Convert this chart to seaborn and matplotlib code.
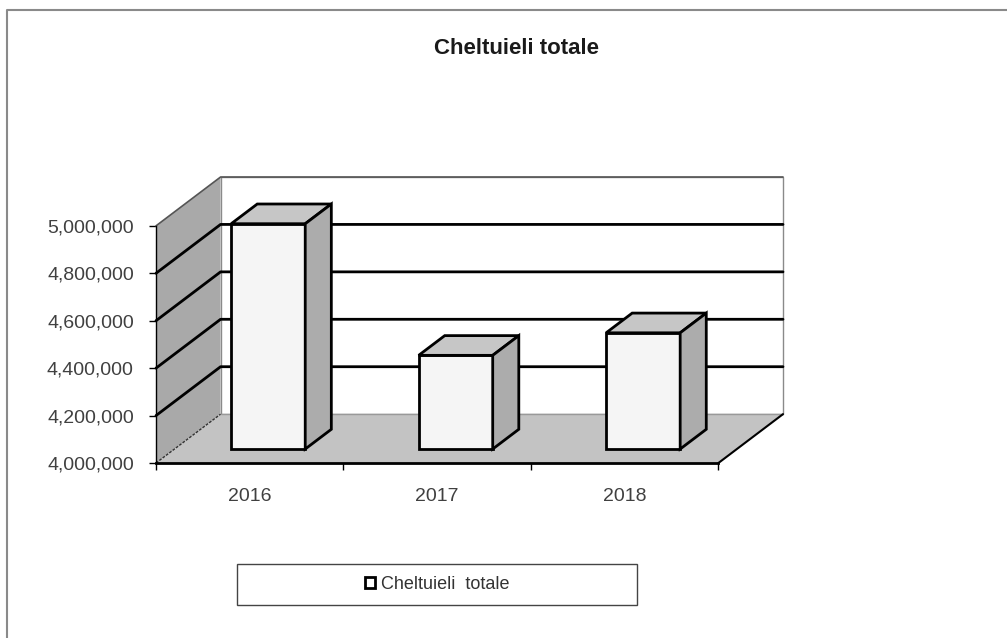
import matplotlib
matplotlib.use("Agg")
import pandas as pd
import matplotlib.pyplot as plt
from matplotlib.patches import Polygon, Rectangle, Patch
from matplotlib.lines import Line2D
from matplotlib.ticker import FuncFormatter
import seaborn as sns

# chart data
years = ["2016", "2017", "2018"]
totals = [4950000, 4395000, 4490000]
y_ticks = [4000000, 4200000, 4400000, 4600000, 4800000, 5000000]
title = "Cheltuieli totale"
series_name = "Cheltuieli  totale"

sns.set_theme(style="white")
plt.rcParams["font.family"] = ["Liberation Sans", "DejaVu Sans"]

W, H = 1007, 638
Y0, Y1 = y_ticks[0], y_ticks[-1]
# depth of the fake 3d box, in data units
DX, DY = 0.3445, 206000
# front / back depth of the bars as a fraction of the box depth
F0, F1 = 0.286, 0.69
BAR_W = 0.395

fig = plt.figure(figsize=(W / 100, H / 100), dpi=100)
ax = fig.add_axes([156 / W, 1 - 463 / H, (783 - 156) / W, (463 - 177) / H])

df = pd.DataFrame({"year": years, "total": totals})
sns.barplot(data=df, x="year", y="total", ax=ax, color="#f5f5f5",
            saturation=1, width=BAR_W, edgecolor="black", linewidth=2,
            zorder=5)

ax.set_xlim(-0.5, 2.5 + DX)
ax.set_ylim(Y0, Y1 + DY)

# turn the flat bars into boxes
bdx, bdy = (F1 - F0) * DX, (F1 - F0) * DY
for bar, val in zip(list(ax.containers[0]), totals):
    x0 = bar.get_x() + F0 * DX
    y0 = Y0 + F0 * DY
    w = bar.get_width()
    bar.set_x(x0)
    bar.set_y(y0)
    bar.set_height(val - Y0)
    bar.set_clip_on(False)
    top = y0 + val - Y0
    ax.add_patch(Polygon([(x0, top), (x0 + w, top), (x0 + w + bdx, top + bdy),
                          (x0 + bdx, top + bdy)], closed=True, fc="#c6c6c6",
                         ec="black", lw=2, zorder=5, clip_on=False))
    ax.add_patch(Polygon([(x0 + w, y0), (x0 + w + bdx, y0 + bdy),
                          (x0 + w + bdx, top + bdy), (x0 + w, top)], closed=True,
                         fc="#acacac", ec="black", lw=2, zorder=5, clip_on=False))

# walls and floor
ax.add_patch(Rectangle((-0.5 + DX, Y0 + DY), 3, Y1 - Y0, fc="white",
                       ec="#8a8a8a", lw=1, zorder=0, clip_on=False))
ax.add_patch(Polygon([(-0.5, Y0), (-0.5, Y1), (-0.5 + DX, Y1 + DY),
                      (-0.5 + DX, Y0 + DY)], closed=True, fc="#a9a9a9",
                     ec="none", zorder=1, clip_on=False))
ax.add_patch(Polygon([(-0.5, Y0), (2.5, Y0), (2.5 + DX, Y0 + DY),
                      (-0.5 + DX, Y0 + DY)], closed=True, fc="#c3c3c3",
                     ec="none", zorder=1, clip_on=False))

for v in y_ticks[1:-1]:
    ax.plot([-0.5, -0.5 + DX, 2.5 + DX], [v, v + DY, v + DY], color="black",
            lw=2, zorder=2, clip_on=False)
ax.plot([-0.5, -0.5 + DX, 2.5 + DX], [Y1, Y1 + DY, Y1 + DY], color="#555555",
        lw=1.2, zorder=2, clip_on=False)
ax.plot([-0.5, -0.5 + DX], [Y0, Y0 + DY], color="#333333", lw=1, ls=(0, (2, 1)),
        zorder=2, clip_on=False)
ax.plot([-0.5 + DX, 2.5 + DX], [Y0 + DY, Y0 + DY], color="#999999", lw=1,
        zorder=2, clip_on=False)
ax.plot([2.5, 2.5 + DX], [Y0, Y0 + DY], color="black", lw=1.5, zorder=2,
        clip_on=False)

# axes
for side in ["top", "right"]:
    ax.spines[side].set_visible(False)
ax.spines["left"].set_bounds(Y0, Y1)
ax.spines["left"].set_color("black")
ax.spines["left"].set_linewidth(1)
ax.spines["bottom"].set_bounds(-0.5, 2.5)
ax.spines["bottom"].set_color("black")
ax.spines["bottom"].set_linewidth(2)
ax.spines["left"].set_zorder(3)
ax.spines["bottom"].set_zorder(3)

ax.set_yticks(y_ticks)
ax.yaxis.set_major_formatter(FuncFormatter(lambda v, p: f"{v:,.0f}"))
ax.set_xticks(range(len(years)), labels=years)
ax.set_xticks([-0.5, 0.5, 1.5, 2.5], minor=True)
ax.tick_params(axis="y", left=True, direction="out", length=5, width=1,
               color="black", pad=11, labelsize=14, labelcolor="#404040")
ax.tick_params(axis="x", which="major", bottom=False, pad=12, labelsize=14,
               labelcolor="#404040")
ax.tick_params(axis="x", which="minor", bottom=True, direction="out", length=5,
               width=1, color="black")
ax.set_xlabel("")
ax.set_ylabel("")

fig.text(517 / W, 1 - 48 / H, title, ha="center", va="center", fontsize=16,
         fontweight="bold", color="#1a1a1a")

# legend
fig.add_artist(Rectangle((237 / W, 1 - 605 / H), 400 / W, 41 / H, fill=False,
                         ec="#444444", lw=1, transform=fig.transFigure))
fig.legend(handles=[Patch(fc="white", ec="black", lw=2)], labels=[series_name],
           loc="center", bbox_to_anchor=(437 / W, 1 - 584.5 / H), frameon=False,
           fontsize=13, handlelength=0.6, handleheight=0.6, handletextpad=0.3,
           labelcolor="#333333")

# outer frame
fig.add_artist(Line2D([7 / W, 7 / W, 1], [0, 1 - 10 / H, 1 - 10 / H],
                      color="#8a8a8a", lw=1.5, transform=fig.transFigure))

fig.savefig("out.png", dpi=100)
